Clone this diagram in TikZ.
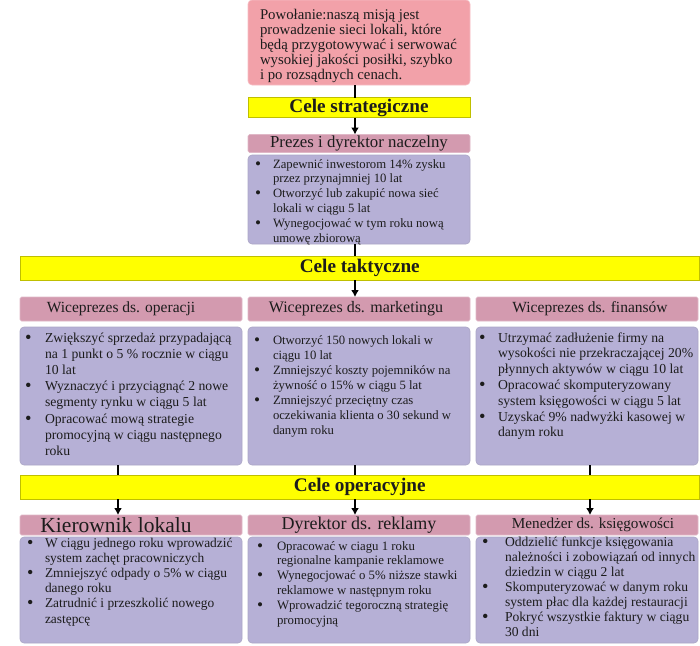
\documentclass[tikz,border=0pt]{standalone}
\usepackage{fontspec}
\setmainfont{Liberation Serif}
\usetikzlibrary{arrows.meta}

\definecolor{misja}{HTML}{F2A1A9}
\definecolor{naglowek}{HTML}{D39AAF}
\definecolor{lista}{HTML}{B6B0D6}
\definecolor{zolty}{HTML}{FFFF00}
\definecolor{tekst}{HTML}{1C1C1C}

\newlength\wcz
\newlength\kr
\newcommand{\pkt}[1]{\par\noindent\hangindent=\wcz\hangafter=1\makebox[\wcz][l]{\hspace{\kr}\raisebox{-0.08em}{\scalebox{1.35}{\textbullet}}}#1}

\begin{document}
\begin{tikzpicture}[x=1pt,y=-1pt]
\tikzset{ >={Latex[length=7pt,width=8pt]}, inner sep=0pt, outer sep=0pt,
  mission/.style={fill=misja, draw=misja!70!white, line width=0.6pt, rounded corners=4pt, anchor=north west, text=tekst},
  aim/.style={fill=zolty, draw=zolty!75!black, line width=0.6pt, anchor=north west, font=\fontsize{19.2}{21}\selectfont\bfseries, text=tekst},
  head/.style={fill=naglowek, draw=naglowek!70!white, line width=0.6pt, rounded corners=1.5pt, anchor=north west, text=tekst},
  goals/.style={fill=lista, draw=lista!80!gray, line width=0.6pt, rounded corners=4pt, anchor=north west, text=tekst},
  link/.style={line width=2pt},
}

\useasboundingbox (0,0) rectangle (700,645);

%\draw [lightgray, dashed](0,0) grid[step=50] (700,645);

\coordinate (kS) at (355,0);
\coordinate (kL) at (118,0);
\coordinate (kP) at (590,0);

\node [mission] (M) at (248,0) {\parbox[c][85pt][t]{222pt}{\raggedright\fontsize{14.8}{15}\selectfont
  \hspace*{12pt}\rule{0pt}{19pt}Powołanie:naszą misją jest\\
  \hspace*{12pt}prowadzenie sieci lokali, które\\
  \hspace*{12pt}będą przygotowywać i serwować\\
  \hspace*{12pt}wysokiej jakości posiłki, szybko\\
  \hspace*{12pt}i po rozsądnych cenach.}};

\node [aim, minimum width=222pt, minimum height=20pt] (CS) at (248,97.5) {Cele strategiczne};

\node [head, minimum width=222pt, minimum height=18pt, font=\fontsize{16.8}{18}\selectfont] (P) at (248,134.5) {Prezes i dyrektor naczelny};

\node [goals] (PG) at (248,155) {\parbox[c][89pt][t]{222pt}{\fontsize{12.7}{14.9}\selectfont
  \setlength\wcz{25pt}\setlength\kr{7pt}
  \pkt{\rule{0pt}{13pt}Zapewnić inwestorom 14\% zysku\newline przez przynajmniej 10 lat}
  \pkt{Otworzyć lub zakupić nowa sieć\newline lokali w ciągu 5 lat}
  \pkt{Wynegocjować w tym roku nową\newline umowę zbiorową}}};

\node [aim, minimum width=679.5pt, minimum height=24pt] (CT) at (20,256) {Cele taktyczne};

% naglowki przesuniete ku liniom kolumn
\node [head, minimum width=222pt, minimum height=24pt, font=\fontsize{15.5}{18}\selectfont] (WO) at (20,297) {\hspace*{-20pt}Wiceprezes ds. operacji};
\node [head, minimum width=222pt, minimum height=24pt, font=\fontsize{16}{18}\selectfont] (WM) at (248,297) {\hspace*{-6pt}Wiceprezes ds. marketingu};
\node [head, minimum width=222pt, minimum height=24pt, font=\fontsize{15.5}{18}\selectfont] (WF) at (476,297) {\hspace*{6pt}Wiceprezes ds. finansów};

\node [goals] (OG) at (20,327) {\parbox[c][138pt][t]{222pt}{\fontsize{13.7}{16.2}\selectfont
  \setlength\wcz{25pt}\setlength\kr{5pt}
  \pkt{\rule{0pt}{15pt}Zwiększyć sprzedaż przypadającą\newline na 1 punkt o 5 \% rocznie w ciągu\newline 10 lat}
  \pkt{Wyznaczyć i przyciągnąć 2 nowe\newline segmenty rynku w ciągu 5 lat}
  \pkt{Opracować mową strategie\newline promocyjną w ciągu następnego\newline roku}}};

\node [goals] (MG) at (248,327) {\parbox[c][138pt][t]{222pt}{\fontsize{12.7}{15.1}\selectfont
  \setlength\wcz{25pt}\setlength\kr{6pt}
  \pkt{\rule{0pt}{17pt}Otworzyć 150 nowych lokali w\newline ciągu 10 lat}
  \pkt{Zmniejszyć koszty pojemników na\newline żywność o 15\% w ciągu 5 lat}
  \pkt{Zmniejszyć przeciętny czas\newline oczekiwania klienta o 30 sekund w\newline danym roku}}};

\node [goals] (FG) at (476,327) {\parbox[c][138pt][t]{222pt}{\fontsize{13.7}{15.8}\selectfont
  \setlength\wcz{22pt}\setlength\kr{3pt}
  \pkt{\rule{0pt}{15pt}Utrzymać zadłużenie firmy na\newline wysokości nie przekraczającej 20\%\newline płynnych aktywów w ciągu 10 lat}
  \pkt{Opracować skomputeryzowany\newline system księgowości w ciągu 5 lat}
  \pkt{Uzyskać 9\% nadwyżki kasowej w\newline danym roku}}};

\node [aim, minimum width=679.5pt, minimum height=24pt] (CO) at (20,475) {Cele operacyjne};

\node [head, minimum width=222pt, minimum height=20pt, font=\fontsize{21.5}{22}\selectfont] (KL) at (20,515) {\hspace*{-30pt}Kierownik lokalu};
\node [head, minimum width=222pt, minimum height=20pt, font=\fontsize{18}{20}\selectfont] (DR) at (248,515) {Dyrektor ds. reklamy};
\node [head, minimum width=222pt, minimum height=20pt, font=\fontsize{15.2}{18}\selectfont] (MK) at (476,515) {\hspace*{12pt}Menedżer ds. księgowości};

\node [goals] (KG) at (20,537) {\parbox[c][106pt][t]{222pt}{\fontsize{13.4}{15.2}\selectfont
  \setlength\wcz{25pt}\setlength\kr{7pt}
  \pkt{\rule{0pt}{10pt}W ciągu jednego roku wprowadzić\newline system zachęt pracowniczych}
  \pkt{Zmniejszyć odpady o 5\% w ciągu\newline danego roku}
  \pkt{Zatrudnić i przeszkolić nowego\newline zastępcę}}};

\node [goals] (DG) at (248,537) {\parbox[c][106pt][t]{222pt}{\fontsize{12.8}{14.8}\selectfont
  \setlength\wcz{29pt}\setlength\kr{9pt}
  \pkt{\rule{0pt}{13pt}Opracować w ciagu 1 roku\newline regionalne kampanie reklamowe}
  \pkt{Wynegocjować o 5\% niższe stawki\newline reklamowe w następnym roku}
  \pkt{Wprowadzić tegoroczną strategię\newline promocyjną}}};

\node [goals] (MKG) at (476,537) {\parbox[c][106pt][t]{222pt}{\fontsize{13.6}{15}\selectfont
  \setlength\wcz{29pt}\setlength\kr{6pt}
  \pkt{\rule{0pt}{9pt}Oddzielić funkcje księgowania\newline należności i zobowiązań od innych\newline dziedzin w ciągu 2 lat}
  \pkt{Skomputeryzować w danym roku\newline system płac dla każdej restauracji}
  \pkt{Pokryć wszystkie faktury w ciągu\newline 30 dni}}};

\draw [link]     (M.south -| kS)  -- (CS.north -| kS);
\draw [link, ->] (CS.south -| kS) -- (P.north -| kS);
\draw [link]     (PG.south -| kS) -- (CT.north -| kS);
\draw [link, ->] (CT.south -| kS) -- (WM.north -| kS);

\draw [link] (OG.south -| kL) -- (CO.north -| kL);
\draw [link] (MG.south -| kS) -- (CO.north -| kS);
\draw [link] (FG.south -| kP) -- (CO.north -| kP);

\draw [link, ->] (CO.south -| kL) -- (KL.north -| kL);
\draw [link, ->] (CO.south -| kS) -- (DR.north -| kS);
\draw [link, ->] (CO.south -| kP) -- (MK.north -| kP);

\end{tikzpicture}
\end{document}
